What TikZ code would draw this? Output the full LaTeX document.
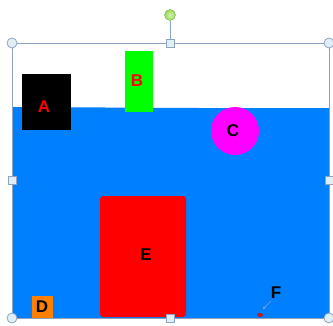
\documentclass[tikz,border=0pt]{standalone}
\usepackage{fontspec}
\setmainfont{Liberation Sans}
\usetikzlibrary{arrows.meta,shapes.geometric}
\definecolor{water}{RGB}{0,128,255}
\definecolor{selline}{RGB}{140,164,192}
\definecolor{handlefill}{RGB}{225,238,246}
\definecolor{rotgreen}{RGB}{150,220,80}
\definecolor{rotedge}{RGB}{120,170,80}
\definecolor{orng}{RGB}{255,128,0}
\definecolor{dotred}{RGB}{190,30,30}
\definecolor{pmagenta}{RGB}{255,0,255}
\definecolor{pgreen}{RGB}{0,255,0}
\definecolor{pred}{RGB}{255,0,0}
\tikzset{
  lbl/.style={font=\bfseries\fontsize{17}{17}\selectfont, inner sep=0pt},
  obj/.style={draw=none, inner sep=0pt},
  cornerhandle/.style={circle, draw=selline, fill=handlefill, minimum size=10pt, inner sep=0pt, line width=0.8pt},
  sidehandle/.style={rectangle, draw=selline, fill=handlefill, minimum size=8pt, inner sep=0pt, line width=0.8pt},
}
\begin{document}
\begin{tikzpicture}[x=1pt,y=-1pt]
\useasboundingbox (0,0) rectangle (333,325);
% water
\fill[water] (12,107) -- (200,108) -- (329,108) -- (329,318) -- (12,318) -- cycle;
% A
\node[obj, fill=black, minimum width=49pt, minimum height=56pt] (A) at (46.5,102) {};
\node[lbl, text=pred] (Alab) at (44,107) {A};
% B
\node[obj, fill=pgreen, minimum width=28pt, minimum height=61pt] (B) at (139,81.5) {};
\node[lbl, text=pred] (Blab) at (137,81) {B};
% C
\node[obj, circle, fill=pmagenta, minimum size=48pt] (C) at (235,131) {};
\node[lbl, text=black] (Clab) at (233,131) {C};
% D
\node[obj, fill=orng, minimum width=21pt, minimum height=22pt] (D) at (42.5,307) {};
\node[lbl, text=black] (Dlab) at (42,307) {D};
% E
\node[obj, fill=pred, rounded corners=3pt, minimum width=86pt, minimum height=121pt] (E) at (143,256.5) {};
\node[lbl, text=black] (Elab) at (146,255) {E};
% F
\node[lbl, text=black] (F) at (276,293) {F};
\node[obj, ellipse, fill=dotred, minimum width=6pt, minimum height=4pt] (Fdot) at (260,315) {};
\coordinate (Ftail) at (271,301);
\coordinate (Fhead) at (263,309);
\draw[selline, line width=0.6pt, -{Stealth[length=3pt,width=3pt]}] (Ftail) -- (Fhead);
% selection frame
\coordinate (TL) at (12,43);
\coordinate (TR) at (329,43);
\coordinate (BR) at (329,318);
\coordinate (BL) at (12,318);
\draw[selline, line width=0.9pt] (TL) -- (TR) -- (BR) -- (BL) -- cycle;
\node[sidehandle] (Tmid) at (170,43) {};
\node[circle, draw=rotedge, inner color=rotgreen!40!white, outer color=rotgreen, minimum size=11pt, inner sep=0pt] (Rot) at (170,15) {};
\draw[selline, line width=1pt] (Rot) -- (Tmid);
\node[sidehandle] (Bmid) at (170,318) {};
\node[sidehandle] (Lmid) at (12,180) {};
\node[sidehandle] (Rmid) at (329,180) {};
\node[cornerhandle] (cTL) at (TL) {};
\node[cornerhandle] (cTR) at (TR) {};
\node[cornerhandle] (cBR) at (BR) {};
\node[cornerhandle] (cBL) at (BL) {};
\end{tikzpicture}
\end{document}
